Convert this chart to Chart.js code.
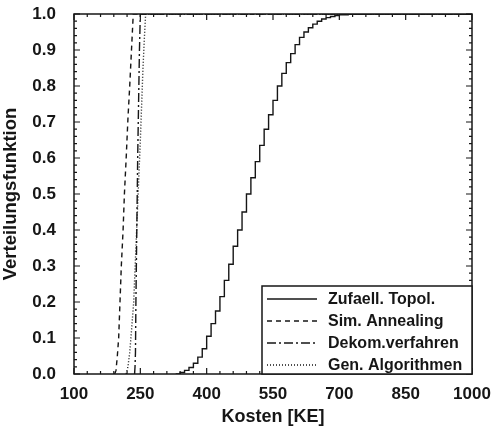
<!DOCTYPE html>
<html>
<head>
<meta charset="utf-8">
<script src="https://cdn.jsdelivr.net/npm/chart.js@4"></script>
<style>
  html, body { margin: 0; padding: 0; background: #fff; }
  #wrap { width: 492px; height: 432px; }
</style>
</head>
<body>
<div id="wrap"><canvas id="c"></canvas></div>
<script>
/* Verteilungsfunktion der Kosten je Verfahren */

const legendLabels = ['Zufaell. Topol.', 'Sim. Annealing', 'Dekom.verfahren', 'Gen. Algorithmen'];

const zufaellX = [330, 340, 350, 360, 370, 380, 390, 400, 410, 420, 430, 440, 450, 460, 470, 480, 490, 500,
  510, 520, 530, 540, 550, 560, 570, 580, 590, 600, 610, 620, 630, 640, 650, 660, 670, 680, 690, 700, 720, 740, 1000];
const zufaellY = [0.0, 0.004, 0.01, 0.018, 0.03, 0.047, 0.07, 0.105, 0.14, 0.175, 0.215, 0.26, 0.305, 0.355, 0.40, 0.45, 0.50, 0.545,
  0.59, 0.635, 0.68, 0.72, 0.76, 0.80, 0.835, 0.865, 0.89, 0.915, 0.935, 0.95, 0.962, 0.972, 0.98, 0.986, 0.99, 0.993, 0.996, 0.998, 0.999, 1.0, 1.0];

const simX = [192, 195, 198, 201, 204, 207, 211, 214, 218, 222, 226, 230, 234, 1000];
const simY = [0.0, 0.01, 0.05, 0.10, 0.20, 0.30, 0.40, 0.50, 0.60, 0.71, 0.80, 0.90, 1.0, 1.0];

const dekomX = [237, 238, 239, 240, 242, 244, 246, 248, 250, 1000];
const dekomY = [0.0, 0.02, 0.06, 0.20, 0.40, 0.60, 0.75, 0.90, 1.0, 1.0];

const genX = [218, 222, 226, 230, 235, 240, 245, 250, 253, 256, 259, 262, 1000];
const genY = [0.0, 0.02, 0.06, 0.12, 0.20, 0.35, 0.50, 0.65, 0.75, 0.85, 0.93, 1.0, 1.0];

const xMin = 100, xMax = 1000, xStep = 150, xMinor = 30;
const yMin = 0, yMax = 1, yStep = 0.1, yMinor = 0.02;

const ink = '#161616';
const fontFam = '"Liberation Sans", Arial, Helvetica, sans-serif';

function pts(xs, ys) { return xs.map((x, i) => ({ x, y: ys[i] })); }

const dashes = [[], [5, 4], [9, 3, 2, 3], [1, 2]];

/* Rahmen, Ticks nach innen und Legende mit Kasten */
const framePlugin = {
  id: 'frame',
  afterDraw(chart) {
    const { ctx, chartArea: a, scales: { x, y } } = chart;
    ctx.save();
    ctx.strokeStyle = ink;
    ctx.lineWidth = 1.5;
    ctx.strokeRect(a.left, a.top, a.right - a.left, a.bottom - a.top);

    ctx.lineWidth = 1.2;
    ctx.beginPath();
    for (let v = xMin; v <= xMax + 0.001; v += xMinor) {
      const px = x.getPixelForValue(v);
      const major = Math.abs(((v - xMin) / xStep) - Math.round((v - xMin) / xStep)) < 1e-6;
      const len = major ? 6 : 3;
      ctx.moveTo(px, a.bottom); ctx.lineTo(px, a.bottom - len);
      ctx.moveTo(px, a.top); ctx.lineTo(px, a.top + len);
    }
    for (let v = yMin; v <= yMax + 1e-6; v += yMinor) {
      const py = y.getPixelForValue(v);
      const major = Math.abs(v / yStep - Math.round(v / yStep)) < 1e-6;
      const len = major ? 6 : 3;
      ctx.moveTo(a.left, py); ctx.lineTo(a.left + len, py);
      ctx.moveTo(a.right, py); ctx.lineTo(a.right - len, py);
    }
    ctx.stroke();

    // Legende unten rechts
    const bw = 210, bh = 88;
    const bx = a.right - bw, by = a.bottom - bh;
    ctx.fillStyle = '#fff';
    ctx.fillRect(bx, by, bw, bh);
    ctx.lineWidth = 1.5;
    ctx.strokeRect(bx, by, bw, bh);
    ctx.font = 'bold 16px ' + fontFam;
    ctx.textBaseline = 'middle';
    ctx.fillStyle = ink;
    chart.data.datasets.forEach((ds, i) => {
      const cy = by + 13 + i * 22;
      ctx.beginPath();
      ctx.setLineDash(ds.borderDash || []);
      ctx.lineWidth = 1.3;
      ctx.moveTo(bx + 5, cy); ctx.lineTo(bx + 55, cy);
      ctx.stroke();
      ctx.setLineDash([]);
      ctx.fillText(ds.label, bx + 66, cy + 1);
    });
    ctx.restore();
  }
};

const series = [pts(zufaellX, zufaellY), pts(simX, simY), pts(dekomX, dekomY), pts(genX, genY)];

new Chart(document.getElementById('c'), {
  type: 'scatter',
  data: {
    datasets: series.map((d, i) => ({
      label: legendLabels[i],
      data: d,
      showLine: true,
      borderColor: ink,
      borderWidth: 1.4,
      borderDash: dashes[i],
      pointRadius: 0,
      stepped: i === 0 ? 'before' : false,
      fill: false
    }))
  },
  options: {
    responsive: true,
    maintainAspectRatio: false,
    animation: false,
    layout: { padding: { top: 14, right: 20, left: 0, bottom: 0 } },
    plugins: { legend: { display: false }, tooltip: { enabled: false } },
    scales: {
      x: {
        type: 'linear', min: xMin, max: xMax,
        grid: { display: false }, border: { display: false },
        ticks: { stepSize: xStep, color: ink, font: { family: fontFam, size: 17, weight: 'bold' }, padding: 2, maxRotation: 0,
          callback: v => String(v) },
        title: { display: true, text: 'Kosten [KE]', color: ink, font: { family: fontFam, size: 18, weight: 'bold' }, padding: { top: 0, bottom: 4 } },
        afterFit(s) { s.height = 58; s.paddingLeft = 0; s.paddingRight = 0; }
      },
      y: {
        min: yMin, max: yMax,
        grid: { display: false }, border: { display: false },
        ticks: { stepSize: yStep, color: ink, font: { family: fontFam, size: 17, weight: 'bold' }, padding: 10, callback: v => v.toFixed(1) },
        title: { display: true, text: 'Verteilungsfunktion', color: ink, font: { family: fontFam, size: 18.5, weight: 'bold' }, padding: { top: 0, bottom: 0 } },
        afterFit(s) { s.width = 74; s.paddingTop = 0; s.paddingBottom = 0; }
      }
    }
  },
  plugins: [framePlugin]
});
</script>
</body>
</html>
